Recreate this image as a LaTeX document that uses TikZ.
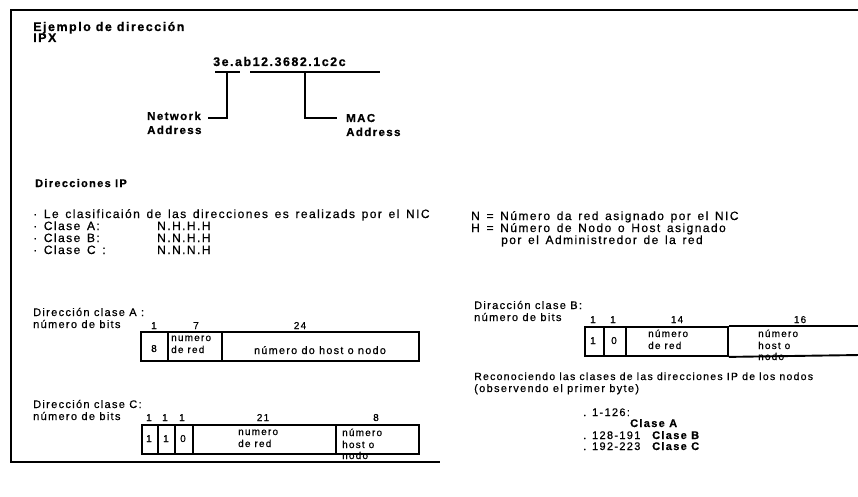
\documentclass[tikz,border=0pt]{standalone}
\usepackage{fontspec}
\setmainfont{Liberation Sans}[LetterSpace=12, FakeBold=0.6]
\newfontfamily\widef{Liberation Sans}[LetterSpace=12, FakeBold=0.6, WordSpace=1.4]
\newcommand{\fsbody}{\fontsize{11}{12}\selectfont}
\newcommand{\fswide}{\widef\fontsize{12}{12}\selectfont}
\newcommand{\fscell}{\fontsize{10}{12}\selectfont}
\begin{document}
\begin{tikzpicture}[x=1pt,y=-1pt,
  t/.style={anchor=base west, inner sep=0pt, font=\fsbody},
  tw/.style={anchor=base west, inner sep=0pt, font=\fswide},
  tb/.style={anchor=base west, inner sep=0pt, font=\fsbody\bfseries},
  bitl/.style={anchor=base, inner sep=0pt, font=\fscell},
  ct/.style={anchor=base west, inner sep=0pt, font=\fscell},
  cc/.style={anchor=base, inner sep=0pt, font=\fscell},
  cellbox/.style={draw, line width=1.9pt, inner sep=0pt, anchor=north west, minimum height=29pt},
  framel/.style={line width=1.3pt},
  brk/.style={line width=2pt}]
\useasboundingbox (0,0) rectangle (858,497);
% frame
\coordinate (f1) at (858,10);
\coordinate (f2) at (11,10);
\coordinate (f3) at (11,462);
\coordinate (f4) at (440,462);
\draw[framel] (f1) -- (f2) -- (f3) -- (f4);

% IPX section
\node[tb, font=\fontsize{12.5}{12}\selectfont\bfseries] (ttl1) at (33,31) {Ejemplo de dirección};
\node[tb, font=\fontsize{12.5}{12}\selectfont\bfseries] (ttl2) at (33,42) {IPX};
\node[tb, font=\fontsize{12.5}{12}\selectfont\bfseries] (ipx) at (213,66) {3e.ab12.3682.1c2c};
\coordinate (u1a) at (215,72);
\coordinate (u1b) at (240,72);
\coordinate (u2a) at (250,72);
\coordinate (u2b) at (380,72);
\draw[brk] (u1a) -- (u1b);
\draw[brk] (u2a) -- (u2b);
\node[tb, font=\fontsize{11.5}{12}\selectfont\bfseries] (netw) at (147,120) {Network};
\node[tb, font=\fontsize{11.5}{12}\selectfont\bfseries] (neta) at (147,134) {Address};
\node[tb, font=\fontsize{11.5}{12}\selectfont\bfseries] (mac) at (346,122) {MAC};
\node[tb, font=\fontsize{11.5}{12}\selectfont\bfseries] (maca) at (346,136) {Address};
\coordinate (nt) at (227,72);
\coordinate (nb) at (208,118);
\coordinate (mt) at (305,72);
\coordinate (mb) at (337,118);
\draw[brk] (nt) |- (nb);
\draw[brk] (mt) |- (mb);

% Direcciones IP
\node[tb] (dip) at (35,187) {Direcciones IP};
\node[tw] (l1) at (33,218) {· Le clasificaión de las direcciones es realizads por el NIC};
\node[tw] (l2) at (33,230) {· Clase A:};
\node[tw] (l3) at (33,242) {· Clase B:};
\node[tw] (l4) at (33,254) {· Clase C :};
\node[tw] (n2) at (157,230) {N.H.H.H};
\node[tw] (n3) at (157,242) {N.N.H.H};
\node[tw] (n4) at (157,254) {N.N.N.H};
\node[tw] (r1) at (471,220) {N = Número da red asignado por el NIC};
\node[tw] (r2) at (471,232) {H = Número de Nodo o Host asignado};
\node[tw] (r3) at (501,244) {por el Administredor de la red};

% Class A
\node[t] (ca1) at (33,316) {Dirección clase A :};
\node[t] (ca2) at (33,328) {número de bits};
\node[bitl] (ba1) at (154,329) {1};
\node[bitl] (ba2) at (196,329) {7};
\node[bitl] (ba3) at (300,329) {24};
\node[cellbox, minimum width=27pt] (a1) at (140,331) {};
\node[cellbox, minimum width=54pt] (a2) at (167,331) {};
\node[cellbox, minimum width=197pt] (a3) at (221,331) {};
\node[cc] (a1t) at (154,352) {8};
\node[ct] (a2t) at (171,341) {numero};
\node[ct] (a2u) at (171,353) {de red};
\node[cc, font=\fontsize{10.8}{12}\selectfont] (a3t) at (320,354) {número do host o nodo};

% Class B
\node[t] (cb1) at (474,309) {Diracción clase B:};
\node[t] (cb2) at (474,321) {número de bits};
\node[bitl] (bb1) at (593,323) {1};
\node[bitl] (bb2) at (613,323) {1};
\node[bitl] (bb3) at (677,323) {14};
\node[bitl] (bb4) at (800,323) {16};
\node[ct] (b4t) at (758,337) {número};
\node[ct] (b4u) at (758,349) {host o};
\node[ct] (b4v) at (758,360) {nodo};
\node[cellbox, minimum width=19pt] (b1) at (584,326) {};
\node[cellbox, minimum width=22pt] (b2) at (603,326) {};
\node[cellbox, minimum width=102pt] (b3) at (625,326) {};
\coordinate (b4e1) at (860,326);
\coordinate (b4e2) at (860,355);
\draw[line width=1.9pt] (b3.north east) -- (b4e1);
\draw[line width=1.9pt] (b3.south east) -- (b4e2);
\node[cc] (b1t) at (593,344) {1};
\node[cc] (b2t) at (614,344) {0};
\node[ct] (b3t) at (648,337) {número};
\node[ct] (b3u) at (648,349) {de red};

% Class C
\node[t] (cc1) at (33,408) {Dirección clase C:};
\node[t] (cc2) at (33,420) {número de bits};
\node[bitl] (bc1) at (149,421) {1};
\node[bitl] (bc2) at (165,421) {1};
\node[bitl] (bc3) at (182,421) {1};
\node[bitl] (bc4) at (263,421) {21};
\node[bitl] (bc5) at (376,421) {8};
\node[ct] (c5v) at (342,459) {nodo};
\node[cellbox, minimum width=16pt] (c1) at (141,424) {};
\node[cellbox, minimum width=17pt] (c2) at (157,424) {};
\node[cellbox, minimum width=18pt] (c3) at (174,424) {};
\node[cellbox, minimum width=143pt] (c4) at (192,424) {};
\node[cellbox, minimum width=83pt] (c5) at (335,424) {};
\node[cc] (c1t) at (149,442) {1};
\node[cc] (c2t) at (166,442) {1};
\node[cc] (c3t) at (183,442) {0};
\node[ct] (c4t) at (238,435) {numero};
\node[ct] (c4u) at (238,447) {de red};
\node[ct] (c5t) at (342,436) {número};
\node[ct] (c5u) at (342,448) {host o};

% recognition
\node[t, font=\fontsize{10.5}{12}\selectfont] (rc1) at (474,380) {Reconociendo las clases de las direcciones IP de los nodos};
\node[t] (rc2) at (474,392) {(observendo el primer byte)};
\node[t] (k1) at (583,416) {. 1-126:};
\node[tb] (k1c) at (630,427) {Clase A};
\node[t] (k2) at (583,439) {. 128-191};
\node[tb] (k2c) at (652,439) {Clase B};
\node[t] (k3) at (583,450) {. 192-223};
\node[tb] (k3c) at (652,450) {Clase C};
\end{tikzpicture}
\end{document}
